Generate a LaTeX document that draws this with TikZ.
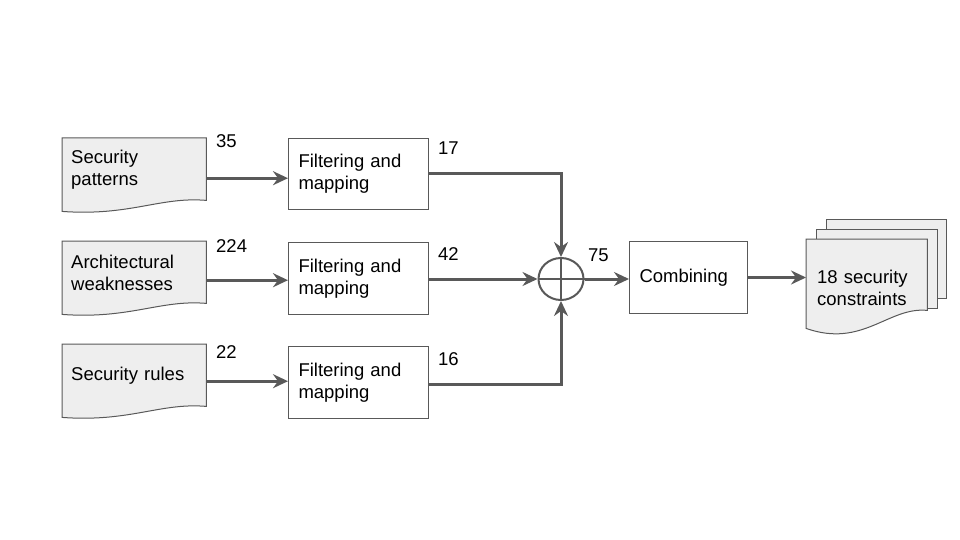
\documentclass[tikz,border=0pt]{standalone}
\usepackage{fontspec}
\setmainfont{Liberation Sans}
\usetikzlibrary{arrows.meta,backgrounds,calc,shapes.geometric}
\definecolor{lc}{HTML}{595959}
\definecolor{dfill}{HTML}{EEEEEE}
\begin{document}
\begin{tikzpicture}[x=1pt,y=-1pt,
  every node/.style={font=\fontsize{18.5}{22}\selectfont},
  box/.style={draw=lc,line width=1pt,fill=white,anchor=north west,minimum width=140pt,minimum height=72pt,inner xsep=10pt,inner ysep=0pt,text width=120pt,align=left},
  docnode/.style={anchor=north west,minimum width=144pt,minimum height=64pt,inner xsep=9pt,inner ysep=0pt,text width=126pt,align=left},
  docshape/.style={draw=lc,line width=1pt,fill=dfill},
  arr/.style={draw=lc,line width=3pt,-{Stealth[length=15pt,width=14pt,inset=5pt]}},
  lbl/.style={anchor=west,inner sep=0pt}]
\useasboundingbox (0,0) rectangle (960,540);

% documents
\node[docnode] (d1) at (62,138) {Security\\patterns};
\node[docnode] (d2) at (62,241) {Architectural\\weaknesses};
\node[docnode] (d3) at (62,344) {Security rules};
\begin{scope}[on background layer]
\foreach \d in {d1,d2,d3}{
  \draw[docshape] (\d.north west) -- (\d.north east) -- ([yshift=2pt]\d.south east)
    .. controls ([xshift=-46pt,yshift=6pt]\d.south east) and ([xshift=68pt,yshift=-14pt]\d.south west) .. ([yshift=-9pt]\d.south west) -- cycle;
}
\end{scope}

% filtering boxes
\node[box,minimum height=71pt] (f1) at (288,138) {Filtering and\\mapping};
\node[box] (f2) at (288,242) {Filtering and\\mapping};
\node[box] (f3) at (288,346) {Filtering and\\mapping};

% combine
\node[draw=lc,line width=2pt,ellipse,minimum width=45pt,minimum height=42pt,inner sep=0pt] (c) at (561,279) {};
\draw[lc,line width=1.5pt] (c.north) -- (c.south) (c.west) -- (c.east);

\node[box,minimum width=118pt,text width=98pt] (cb) at (629,241) {Combining};

% output stack
\node[anchor=north west,minimum width=121pt,minimum height=97pt,inner xsep=11pt,inner ysep=0pt,text width=99pt,align=left] (o) at (806,239) {18 security\\constraints};
\begin{scope}[on background layer]
\node[docshape,anchor=north west,minimum width=120pt,minimum height=79pt,inner sep=0pt] (o3) at (826,219) {};
\node[docshape,anchor=north west,minimum width=121pt,minimum height=79pt,inner sep=0pt] (o2) at (816,229) {};
\draw[docshape] (o.north west) -- (o.north east) -- ([yshift=26pt]o.south east)
  .. controls ([xshift=-39pt,yshift=30pt]o.south east) and ([xshift=57pt,yshift=-12pt]o.south west) .. ([yshift=8pt]o.south west) -- cycle;
\end{scope}

% arrows docs -> boxes
\draw[arr] ([yshift=-8pt]d1.east) coordinate (a1) -- (a1 -| f1.west);
\draw[arr] ([yshift=-7pt]d2.east) coordinate (a2) -- (a2 -| f2.west);
\draw[arr] ([yshift=-5pt]d3.east) coordinate (a3) -- (a3 -| f3.west);

% boxes -> combine
\draw[arr] (f1.east) -- (f1.east -| c.north) -- (c.north);
\draw[arr] (f2.east |- c.west) -- (c.west);
\draw[arr] ([yshift=-2pt]f3.east) coordinate (b3) -- (b3 -| c.south) -- (c.south);
\draw[arr] (c.east) -- (c.east -| cb.west);
\draw[arr] (cb.east) -- (cb.east -| o.west);

% labels
\node[lbl] (l35) at (216,141) {35};
\node[lbl] (l224) at (216,246) {224};
\node[lbl] (l22) at (216,352) {22};
\node[lbl] (l17) at (438,148) {17};
\node[lbl] (l42) at (438,254) {42};
\node[lbl] (l16) at (438,359) {16};
\node[lbl] (l75) at (588,255) {75};
\end{tikzpicture}
\end{document}
